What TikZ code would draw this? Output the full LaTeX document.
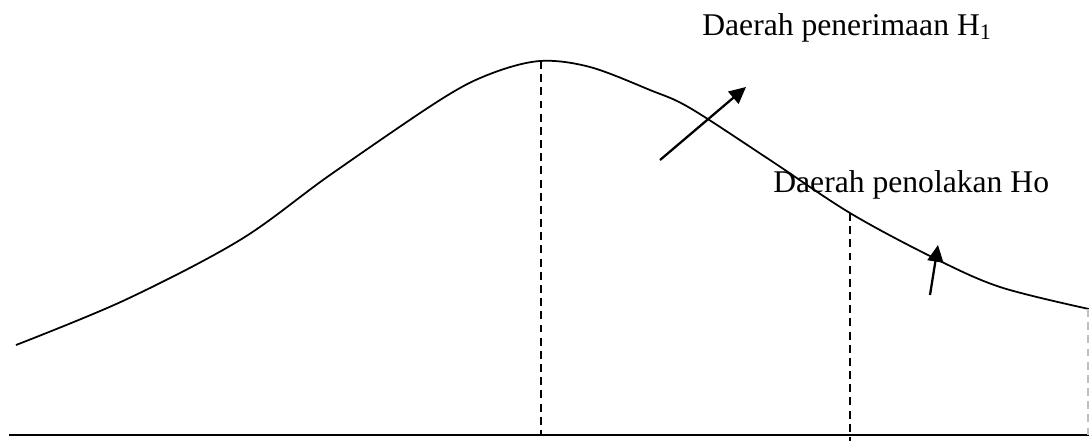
\documentclass[tikz,border=0pt]{standalone}
\usepackage{fontspec}
\setmainfont{Liberation Serif}
\usetikzlibrary{arrows.meta}

\begin{document}
\begin{tikzpicture}[x=0.02cm, y=-0.02cm,
                curve/.style={line width=1pt},
                guide/.style={line width=0.9pt, dash pattern=on 4.5pt off 3pt},
                pointer/.style={line width=1.3pt, -{Triangle[length=9.5pt, width=9pt]}},
                lbl/.style={anchor=base west, inner sep=0pt,
                            font=\fontsize{18}{21}\selectfont}]
                \useasboundingbox (0,0) rectangle (1089,441);
                % axis
                \coordinate (axl) at (9,435);
                \coordinate (axr) at (1089,435);
                \draw[curve] (axl) -- (axr);
                % density curve
                \draw[curve] plot[smooth, tension=0.55] coordinates {
                    (16,345) (125,300) (240,240) (330,175) (440,100) (490,74)
                    (540,61) (590,67) (650,90) (690,108) (770,160) (850,213)
                    (932,257) (1000,287) (1089,309)};
                \coordinate (top) at (541,61);
                \coordinate (topb) at (541,435);
                \coordinate (crit) at (850,213);
                \coordinate (critb) at (850,441);
                \coordinate (edge) at (1088,309);
                \coordinate (edgeb) at (1088,435);
                \draw[guide] (top) -- (topb);
                \draw[guide] (crit) -- (critb);
                \draw[guide, black!25] (edge) -- (edgeb);
                % labels
                \node[lbl] (h1) at (702,35) {Daerah penerimaan H\textsubscript{1}};
                \node[lbl] (h0) at (773,192) {Daerah penolakan Ho};
                \coordinate (a1) at (660,160);
                \coordinate (b1) at (746,87);
                \coordinate (a2) at (930,295);
                \coordinate (b2) at (938,245);
                \draw[pointer] (a1) -- (b1);
                \draw[pointer] (a2) -- (b2);
            \end{tikzpicture}
\end{document}
